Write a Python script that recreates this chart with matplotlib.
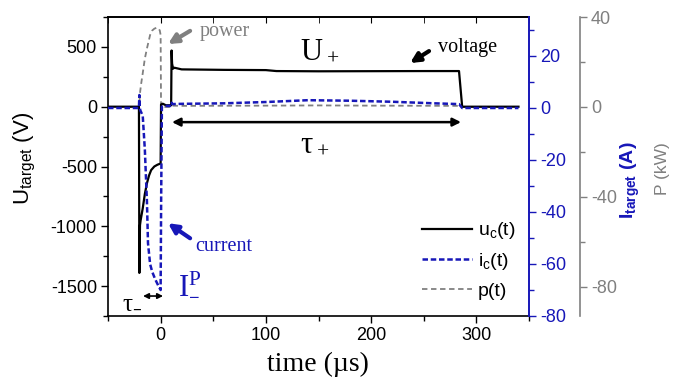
import matplotlib
matplotlib.use("Agg")
import matplotlib.pyplot as plt
from matplotlib.ticker import MultipleLocator, FixedLocator
from matplotlib.lines import Line2D

plt.rcParams['font.family'] = ['Liberation Sans', 'DejaVu Sans']
plt.rcParams['mathtext.default'] = 'regular'
plt.rcParams['axes.unicode_minus'] = False

BLUE = '#1717b8'
GRAY = '#808080'
SERIF = ['Liberation Serif', 'DejaVu Serif']

# ---- data ----
t_u = [-50, -20.6, -20.2, -19.6, -19.0, -17, -15, -13, -11, -9, -6, -3, 0, 0.4, 2, 5, 10,
       10.4, 10.9, 11.8, 13, 20, 60, 100, 110, 150, 200, 250, 283.5, 286.5, 340]
u = [0, 0, -1390, -990, -950, -850, -730, -640, -575, -530, -500, -485, -475, 18, 25, 12, 12,
     470, 360, 318, 326, 312, 308, 306, 298, 296, 297, 298, 298, 0, 0]

t_i = [-50, -20.6, -20.2, -19.8, -19.2, -17, -15, -13, -12, -10, -8, -5, -2, 0.0, 0.5, 1.2, 5, 10,
       10.5, 11, 20, 60, 100, 140, 180, 220, 260, 283.5, 286.5, 300, 340]
i = [0, 0, 5, 0, -1, -3, -16, -36, -52, -60, -63, -66, -68.5, -70, -35, 0.5, 0.8, 0.8,
     2, 1.5, 1.6, 1.8, 2.3, 3.0, 2.8, 2.4, 1.8, 1.5, 0, 0, 0]

t_p = [-50, -20.6, -20.2, -19.4, -18.6, -17, -15, -13, -11, -10, -8, -6, -4, -2, -0.8, 0.0, 0.4,
       1, 10, 10.5, 20, 100, 150, 200, 283.5, 286.5, 340]
p = [0, 0, 2, 7, 10, 15, 21.5, 26, 30, 32, 34, 34.8, 35.2, 35, 34, 32, 0,
     0, 0, 0.6, 0.5, 0.6, 0.7, 0.6, 0.5, 0, 0]

x_major = [0, 100, 200, 300]
u_major = [-1500, -1000, -500, 0, 500]
i_major = [-80, -60, -40, -20, 0, 20]
p_major = [-80, -40, 0, 40]

fig = plt.figure(figsize=(6.88, 3.83), dpi=100)
ax = fig.add_axes([108/688, 1-316/383, (529-108)/688, 299/383])
ax2 = ax.twinx()
ax3 = ax.twinx()

# power on gray axis (drawn beneath)
ax3.plot(t_p, p, color=GRAY, lw=1.3, ls=(0, (3, 2)))
ax3.set_ylim(-92.9, 40)
# voltage
ax.plot(t_u, u, color='black', lw=1.6)
ax.set_xlim(-50, 350)
ax.set_ylim(-1750, 750)
# current
ax2.plot(t_i, i, color=BLUE, lw=1.8, ls=(0, (2.2, 1.1)))
ax2.set_ylim(-80, 35)

ax3.set_zorder(1); ax.set_zorder(2); ax2.set_zorder(3)
ax.patch.set_visible(False); ax2.patch.set_visible(False)

# main axis ticks
ax.set_xticks(x_major)
ax.xaxis.set_minor_locator(MultipleLocator(50))
ax.set_yticks(u_major)
ax.yaxis.set_minor_locator(MultipleLocator(250))
ax.tick_params(axis='both', which='major', direction='out', length=5, width=1, labelsize=13, pad=3)
ax.tick_params(axis='both', which='minor', direction='out', length=3.5, width=1)
ax.tick_params(axis='x', top=False)
secx = ax.secondary_xaxis('top')
secx.set_xticks(x_major)
secx.xaxis.set_minor_locator(MultipleLocator(50))
secx.tick_params(which='both', direction='in', length=4, labeltop=False)
secx.spines['top'].set_linewidth(1.2)
for s in ['left', 'bottom', 'top']:
    ax.spines[s].set_linewidth(1.2)
ax.spines['right'].set_visible(False)

# blue axis
ax2.set_yticks(i_major)
ax2.yaxis.set_minor_locator(MultipleLocator(10))
ax2.tick_params(axis='y', which='major', colors=BLUE, length=5, width=1, labelsize=13, pad=3)
ax2.tick_params(axis='y', which='minor', colors=BLUE, length=3.5, width=1)
ax2.spines['right'].set_color(BLUE)
ax2.spines['right'].set_linewidth(1.4)
for s in ['left', 'top', 'bottom']:
    ax2.spines[s].set_visible(False)

# gray axis
ax3.spines['right'].set_position(('outward', 51*0.72))
ax3.set_yticks(p_major)
ax3.yaxis.set_minor_locator(FixedLocator([-60, -20, 20]))
ax3.tick_params(axis='y', which='major', colors=GRAY, length=5, width=1, labelsize=13, pad=3)
ax3.tick_params(axis='y', which='minor', colors=GRAY, length=3.5, width=1)
ax3.spines['right'].set_color(GRAY)
ax3.spines['right'].set_linewidth(1.2)
for s in ['left', 'top', 'bottom']:
    ax3.spines[s].set_visible(False)

# axis labels
fig.text(25/688, 1-158/383, 'U$_{target}$ (V)', rotation=90, ha='center', va='center', fontsize=16)
fig.text(318/688, 1-364/383, 'time (µs)', ha='center', va='center', fontsize=20, family=SERIF)
fig.text(630/688, 1-180/383, 'I$_{target}$ (A)', rotation=90, ha='center', va='center',
         fontsize=14, color=BLUE, fontweight='bold')
fig.text(663/688, 1-169/383, 'P (kW)', rotation=90, ha='center', va='center', fontsize=12.5, color=GRAY)

# annotations (voltage-axis data coordinates)
ax.text(37.4, 591, 'power', color=GRAY, fontsize=14.5, family=SERIF, va='baseline', ha='left')
ax.annotate('', xy=(7, 524), xytext=(28, 634),
            arrowprops=dict(arrowstyle='-|>', color=GRAY, lw=3, mutation_scale=14, shrinkA=0, shrinkB=0))
ax.text(132.4, 407, 'U$_+$', fontsize=22, family=SERIF, va='baseline', ha='left')
ax.text(263.6, 457, 'voltage', fontsize=14.5, family=SERIF, va='baseline', ha='left')
ax.annotate('', xy=(237, 365), xytext=(255, 465),
            arrowprops=dict(arrowstyle='-|>', color='black', lw=3, mutation_scale=14, shrinkA=0, shrinkB=0))
ax.annotate('', xy=(10.8, -129), xytext=(285.4, -129),
            arrowprops=dict(arrowstyle='<|-|>', color='black', lw=1.8, mutation_scale=12, shrinkA=0, shrinkB=0))
ax.text(132.4, -370, 'τ$_+$', fontsize=22, family=SERIF, va='baseline', ha='left')
ax.text(32.7, -1205, 'current', color=BLUE, fontsize=14.5, family=SERIF, va='baseline', ha='left')
ax.annotate('', xy=(7, -974), xytext=(28, -1100),
            arrowprops=dict(arrowstyle='-|>', color=BLUE, lw=3, mutation_scale=14, shrinkA=0, shrinkB=0))
ax.text(16.5, -1550, 'I$^{P}_{\u2013}$', color=BLUE, fontsize=22, family=SERIF, va='baseline', ha='left')
ax.text(-36.7, -1683, 'τ$_{\u2013}$', fontsize=18, family=SERIF, va='baseline', ha='left')
ax.annotate('', xy=(-16.7, -1583), xytext=(2.3, -1583),
            arrowprops=dict(arrowstyle='<|-|>', color='black', lw=1.2, mutation_scale=8, shrinkA=0, shrinkB=0))

# legend
handles = [Line2D([], [], color='black', lw=1.6),
           Line2D([], [], color=BLUE, lw=1.8, ls=(0, (2.2, 1.1))),
           Line2D([], [], color=GRAY, lw=1.3, ls=(0, (3, 2)))]
ax.legend(handles, ['u$_c$(t)', 'i$_c$(t)', 'p(t)'], loc='lower right', bbox_to_anchor=(0.968, 0.055),
          frameon=False, fontsize=14, handlelength=2.6, handletextpad=0.3, labelspacing=0.5,
          borderaxespad=0, borderpad=0)

fig.savefig('out.png', dpi=100)
